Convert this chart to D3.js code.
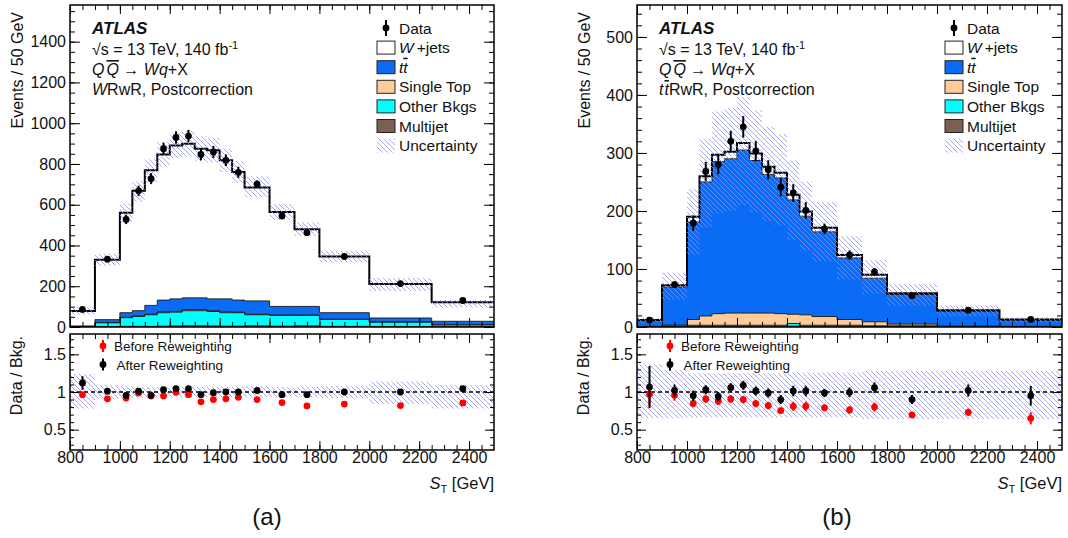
<!DOCTYPE html>
<meta charset="utf-8">
<script src="https://d3js.org/d3.v7.min.js"></script>
<style>
  body { margin: 0; background: #fff; }
  svg text { font-family: "Liberation Sans", Arial, Helvetica, sans-serif; fill: #111; }
  .tick text { font-size: 16px; }
  .it { font-style: italic; }
  .ov { text-decoration: overline; }
</style>
<div id="chart"></div>
<script>

// S_T bins [GeV]
var binEdges   = [800, 900, 1000, 1050, 1100, 1150, 1200, 1250, 1300, 1350, 1400, 1450, 1500, 1600, 1700, 1800, 2000, 2250, 2500];
var binCenters = [850, 950, 1025, 1075, 1125, 1175, 1225, 1275, 1325, 1375, 1425, 1475, 1550, 1650, 1750, 1900, 2125, 2375];

// (a) W RwR -- events / 50 GeV
var wjetsA    = [73, 294, 491, 588, 663, 715, 753, 756, 732, 729, 680, 629, 557, 463, 379, 276, 167, 94];
var ttbarA    = [3, 14, 22, 25, 43, 58, 61, 58, 58, 58, 64, 59, 65, 42, 42, 32, 19, 17];
var singleA   = [0, 1, 2, 3, 3, 4, 4, 5, 5, 4, 4, 3, 3, 2, 2, 1, 1, 0];
var otherA    = [1, 19, 43, 49, 57, 66, 68, 74, 74, 71, 66, 66, 54, 53, 51, 34, 22, 10];
var multijetA = [1, 2, 3, 3, 3, 4, 5, 6, 6, 5, 4, 4, 6, 4, 6, 3, 2, 1];
var dataA     = [86, 333, 528, 668, 728, 875, 930, 937, 847, 859, 818, 759, 701, 545, 463, 346, 213, 130];
var dataErrA  = [6.6, 12.9, 23, 25.8, 27, 29.6, 30.5, 30.6, 29.1, 29.3, 28.6, 27.5, 18.7, 16.5, 15.2, 9.3, 6.5, 5.1];
var uncUpA    = [0.24, 0.09, 0.08, 0.07, 0.07, 0.07, 0.07, 0.07, 0.07, 0.07, 0.07, 0.07, 0.08, 0.07, 0.07, 0.08, 0.14, 0.09];
var uncDnA    = [0.22, 0.09, 0.08, 0.08, 0.08, 0.07, 0.07, 0.07, 0.07, 0.07, 0.07, 0.07, 0.07, 0.07, 0.07, 0.08, 0.16, 0.22];
var afterA     = [1.12, 1.01, 0.956, 1.01, 0.956, 1.03, 1.044, 1.044, 0.965, 0.99, 1.0, 1.0, 1.02, 0.965, 0.965, 1.0, 1.0, 1.044];
var afterErrA  = [0.09, 0.03, 0.035, 0.03, 0.035, 0.03, 0.03, 0.03, 0.03, 0.03, 0.03, 0.03, 0.02, 0.025, 0.03, 0.025, 0.025, 0.035];
var beforeA    = [0.965, 0.91, 0.92, 0.987, 0.947, 0.947, 0.996, 0.965, 0.87, 0.90, 0.91, 0.93, 0.90, 0.86, 0.815, 0.84, 0.82, 0.855];
var beforeErrA = [0.03, 0.02, 0.03, 0.03, 0.03, 0.03, 0.03, 0.03, 0.03, 0.03, 0.03, 0.03, 0.02, 0.025, 0.025, 0.02, 0.02, 0.03];

// (b) ttbar RwR -- events / 50 GeV
var wjetsB    = [1, 3, 9, 10, 12, 12, 12, 12, 13, 9, 9, 8, 7, 5, 6, 2, 1.5, 1];
var ttbarB    = [10, 65.6, 168, 231, 262, 266, 281, 263, 239, 234, 197, 170, 146, 106, 75, 51, 26, 11];
var singleB   = [0, 1.4, 10, 16, 20, 21, 21, 21, 21, 20, 16, 18, 15, 10, 7, 3, 0.5, 0];
var otherB    = [0.5, 1, 1.5, 1.5, 1.5, 1.5, 1.5, 1.5, 1.5, 1.5, 4.5, 1.5, 1.5, 1.5, 1, 1, 0.5, 0.5];
var multijetB = [0.5, 1, 1.5, 1.5, 1.5, 1.5, 1.5, 1.5, 1.5, 1.5, 1.5, 1.5, 1.5, 1.5, 1, 1, 0.5, 0.5];
var dataB     = [12, 73, 179, 268, 280, 320, 345, 303, 271, 241, 231, 201, 169, 124, 95, 54, 29, 13];
var dataErrB  = [2.4, 6, 13.4, 16.4, 16.7, 17.9, 18.6, 17.4, 16.5, 15.5, 15.2, 14.2, 9.2, 7.9, 6.9, 3.7, 2.4, 1.6];
var uncUpB    = [0.37, 0.30, 0.25, 0.25, 0.25, 0.25, 0.25, 0.25, 0.25, 0.25, 0.26, 0.26, 0.26, 0.26, 0.28, 0.28, 0.28, 0.28];
var uncDnB    = [0.35, 0.35, 0.34, 0.34, 0.34, 0.34, 0.34, 0.34, 0.34, 0.34, 0.34, 0.34, 0.34, 0.34, 0.36, 0.36, 0.36, 0.36];
var afterB     = [1.066, 1.02, 0.95, 1.03, 0.94, 1.057, 1.088, 1.013, 0.987, 0.90, 1.013, 1.013, 0.987, 0.996, 1.057, 0.90, 1.02, 0.95];
var afterErrB  = [0.28, 0.08, 0.07, 0.06, 0.06, 0.06, 0.06, 0.06, 0.06, 0.06, 0.07, 0.07, 0.055, 0.065, 0.07, 0.06, 0.08, 0.13];
var beforeB    = [0.97, 0.956, 0.846, 0.907, 0.877, 0.907, 0.90, 0.846, 0.82, 0.753, 0.81, 0.81, 0.79, 0.762, 0.80, 0.696, 0.73, 0.65];
var beforeErrB = [0.15, 0.07, 0.05, 0.05, 0.05, 0.05, 0.05, 0.05, 0.05, 0.04, 0.06, 0.06, 0.045, 0.05, 0.06, 0.035, 0.05, 0.08];

var xTicks = [800, 1000, 1200, 1400, 1600, 1800, 2000, 2200, 2400];

var colors = { wjets: "#ffffff", ttbar: "#0a6cf5", single: "#ffcc99", other: "#00ffff", multijet: "#7d5f50" };
var hatchColor = "#8f8ff4";

var svg = d3.select("#chart").append("svg")
    .attr("width", 1068)
    .attr("height", 538);

// hatch for the uncertainty
svg.append("defs").append("pattern")
    .attr("id", "hatch")
    .attr("patternUnits", "userSpaceOnUse")
    .attr("width", 5).attr("height", 5)
  .append("path")
    .attr("d", "M0,0 L5,5 M-1,4 L1,6 M4,-1 L6,1")
    .attr("stroke", hatchColor)
    .attr("stroke-width", 0.8);

var topY0 = 327, topY1 = 5, ratY0 = 450, ratY1 = 334;

function ticks(g, axis) {
  g.call(axis);
  g.select(".domain").remove();
  g.attr("font-size", null).attr("font-family", null);
}

function drawPanel(p) {
  var g = svg.append("g");
  var x = d3.scaleLinear().domain([800, 2500]).range([p.left, p.right]);
  var y = d3.scaleLinear().domain([0, p.yMax]).range([topY0, topY1]);
  var yr = d3.scaleLinear().domain([0.23, 1.77]).range([ratY0, ratY1]);

  var clip = "clip" + p.name;
  svg.select("defs").append("clipPath").attr("id", clip)
    .append("rect").attr("x", p.left).attr("y", topY1).attr("width", p.right - p.left).attr("height", topY0 - topY1);

  // ---- stacked backgrounds
  var keys = ["multijet", "other", "single", "ttbar", "wjets"];
  var rows = binCenters.map(function(c, i) {
    return { multijet: p.multijet[i], other: p.other[i], single: p.single[i], ttbar: p.ttbar[i], wjets: p.wjets[i] };
  });
  var layers = d3.stack().keys(keys)(rows);

  var area = d3.area().x(function(d) { return x(d.x); }).y0(function(d) { return y(d.y0); }).y1(function(d) { return y(d.y1); });
  var line = d3.line().x(function(d) { return x(d.x); }).y(function(d) { return y(d.y1); });

  function steps(lo, hi) {
    var pts = [];
    binCenters.forEach(function(c, i) {
      pts.push({ x: binEdges[i], y0: lo(i), y1: hi(i) });
      pts.push({ x: binEdges[i + 1], y0: lo(i), y1: hi(i) });
    });
    return pts;
  }

  var stackG = g.append("g").attr("clip-path", "url(#" + clip + ")");
  layers.forEach(function(layer) {
    var pts = steps(function(i) { return layer[i][0]; }, function(i) { return layer[i][1]; });
    stackG.append("path").attr("d", area(pts)).attr("fill", colors[layer.key]);
  });
  layers.forEach(function(layer) {
    var pts = steps(function(i) { return layer[i][0]; }, function(i) { return layer[i][1]; });
    stackG.append("path").attr("d", line(pts)).attr("fill", "none")
      .attr("stroke", layer.key == "wjets" ? "#000" : "#222")
      .attr("stroke-width", layer.key == "wjets" ? 2 : 1);
  });

  // uncertainty band
  var total = layers[layers.length - 1];
  stackG.append("path")
    .attr("d", area(steps(function(i) { return total[i][1] * (1 - p.uncDn[i]); },
                          function(i) { return total[i][1] * (1 + p.uncUp[i]); })))
    .attr("fill", "url(#hatch)");

  // data
  var dg = g.append("g");
  dg.selectAll("line").data(binCenters).join("line")
    .attr("x1", function(d) { return x(d); }).attr("x2", function(d) { return x(d); })
    .attr("y1", function(d, i) { return y(p.data[i] - p.dataErr[i]); })
    .attr("y2", function(d, i) { return y(p.data[i] + p.dataErr[i]); })
    .attr("stroke", "#000").attr("stroke-width", 2);
  dg.selectAll("circle").data(binCenters).join("circle")
    .attr("cx", function(d) { return x(d); })
    .attr("cy", function(d, i) { return y(p.data[i]); })
    .attr("r", 3.4).attr("fill", "#000");

  // ---- axes, top pad
  g.append("g").attr("transform", "translate(" + p.left + ",0)")
    .call(ticks, d3.axisLeft(y).tickValues(p.yTicks).tickSize(-10).tickPadding(4).tickFormat(d3.format("d")));
  g.append("g").attr("transform", "translate(" + p.left + ",0)")
    .call(ticks, d3.axisLeft(y).tickValues(p.yMinor).tickSize(-5).tickFormat(""));
  g.append("g").attr("transform", "translate(" + p.right + ",0)")
    .call(ticks, d3.axisRight(y).tickValues(p.yTicks).tickSize(-10).tickFormat(""));
  g.append("g").attr("transform", "translate(" + p.right + ",0)")
    .call(ticks, d3.axisRight(y).tickValues(p.yMinor).tickSize(-5).tickFormat(""));
  [[topY1, "top"], [topY0, "bottom"], [ratY1, "top"], [ratY0, "bottom"]].forEach(function(a) {
    var mk = a[1] == "top" ? d3.axisTop : d3.axisBottom;
    g.append("g").attr("transform", "translate(0," + a[0] + ")")
      .call(ticks, mk(x).tickValues(xTicks).tickSize(-9).tickPadding(2)
        .tickFormat(a[0] == ratY0 ? d3.format("d") : ""));
    g.append("g").attr("transform", "translate(0," + a[0] + ")")
      .call(ticks, mk(x).tickValues(d3.range(850, 2500, 50)).tickSize(-5).tickFormat(""));
  });
  g.append("rect").attr("x", p.left).attr("y", topY1).attr("width", p.right - p.left).attr("height", topY0 - topY1)
    .attr("fill", "none").attr("stroke", "#000").attr("stroke-width", 1.5);

  g.append("text").attr("transform", "translate(" + (p.left - 47) + ",12) rotate(-90)")
    .attr("text-anchor", "end").style("font-size", "16px").text("Events / 50 GeV");

  // ---- labels
  var tx = p.left + 22;
  g.append("text").attr("x", tx).attr("y", 34).style("font-size", "17px").style("font-weight", "bold").style("font-style", "italic").text("ATLAS");
  var t1 = g.append("text").attr("x", tx).attr("y", 55).style("font-size", "16px");
  t1.append("tspan").text("\u221As = 13 TeV, 140 fb");
  t1.append("tspan").attr("dy", -6).style("font-size", "11px").text("-1");
  var t2 = g.append("text").attr("x", tx).attr("y", 75).style("font-size", "16px");
  t2.append("tspan").attr("class", "it").text("Q");
  t2.append("tspan").attr("class", "it ov").attr("dx", 2).text("Q");
  t2.append("tspan").text(" \u2192 ");
  t2.append("tspan").attr("class", "it").text("Wq");
  t2.append("tspan").text("+X");
  var t3 = g.append("text").attr("x", tx).attr("y", 95).style("font-size", "16px");
  if (p.name == "a") {
    t3.append("tspan").attr("class", "it").text("W");
  } else {
    t3.append("tspan").attr("class", "it").text("t");
    t3.append("tspan").attr("class", "it ov").attr("dx", 1).text("t");
  }
  t3.append("tspan").text("RwR, Postcorrection");

  // legend
  var lx = p.right - 117, ly = 28, dy = 19.6;
  var items = [
    { key: "data" }, { key: "wjets" }, { key: "ttbar" }, { key: "single", label: "Single Top" },
    { key: "other", label: "Other Bkgs" }, { key: "multijet", label: "Multijet" }, { key: "unc", label: "Uncertainty" }
  ];
  items.forEach(function(it, i) {
    var cy = ly + i * dy;
    if (it.key == "data") {
      g.append("line").attr("x1", lx + 9).attr("x2", lx + 9).attr("y1", cy - 8).attr("y2", cy + 8).attr("stroke", "#000").attr("stroke-width", 2);
      g.append("circle").attr("cx", lx + 9).attr("cy", cy).attr("r", 3.4).attr("fill", "#000");
    } else if (it.key == "unc") {
      g.append("rect").attr("x", lx).attr("y", cy - 7).attr("width", 18).attr("height", 14).attr("fill", "url(#hatch)");
    } else {
      g.append("rect").attr("x", lx).attr("y", cy - 6.5).attr("width", 18).attr("height", 13)
        .attr("fill", colors[it.key]).attr("stroke", "#222").attr("stroke-width", 1);
    }
    var t = g.append("text").attr("x", lx + 22).attr("y", cy + 5.5).style("font-size", "15.5px");
    if (it.key == "data") t.text("Data");
    else if (it.key == "wjets") { t.append("tspan").attr("class", "it").text("W"); t.append("tspan").attr("dx", 3).text("+jets"); }
    else if (it.key == "ttbar") { t.append("tspan").attr("class", "it").text("t"); t.append("tspan").attr("class", "it ov").text("t"); }
    else t.text(it.label);
  });

  // ---- ratio pad
  var rg = g.append("g");
  var rclip = "rclip" + p.name;
  svg.select("defs").append("clipPath").attr("id", rclip)
    .append("rect").attr("x", p.left).attr("y", ratY1).attr("width", p.right - p.left).attr("height", ratY0 - ratY1);
  var rArea = d3.area().x(function(d) { return x(d.x); }).y0(function(d) { return yr(d.y0); }).y1(function(d) { return yr(d.y1); });
  rg.append("path").attr("clip-path", "url(#" + rclip + ")")
    .attr("d", rArea(steps(function(i) { return 1 - p.uncDn[i]; }, function(i) { return 1 + p.uncUp[i]; })))
    .attr("fill", "url(#hatch)");
  rg.append("line").attr("x1", p.left).attr("x2", p.right).attr("y1", yr(1)).attr("y2", yr(1))
    .attr("stroke", "#000").attr("stroke-width", 1.5).attr("stroke-dasharray", "4,3");

  function points(vals, errs, col) {
    var pg = rg.append("g");
    pg.selectAll("line").data(binCenters).join("line")
      .attr("x1", function(d) { return x(d); }).attr("x2", function(d) { return x(d); })
      .attr("y1", function(d, i) { return yr(vals[i] - errs[i]); })
      .attr("y2", function(d, i) { return yr(vals[i] + errs[i]); })
      .attr("stroke", col).attr("stroke-width", 2);
    pg.selectAll("circle").data(binCenters).join("circle")
      .attr("cx", function(d) { return x(d); })
      .attr("cy", function(d, i) { return yr(vals[i]); })
      .attr("r", 3.4).attr("fill", col);
  }
  points(p.before, p.beforeErr, "#ff0000");
  points(p.after, p.afterErr, "#000000");

  rg.append("g").attr("transform", "translate(" + p.left + ",0)")
    .call(ticks, d3.axisLeft(yr).tickValues([0.5, 1, 1.5]).tickSize(-9).tickPadding(4).tickFormat(d3.format("")));
  rg.append("g").attr("transform", "translate(" + p.left + ",0)")
    .call(ticks, d3.axisLeft(yr).tickValues(d3.range(0.3, 1.75, 0.1)).tickSize(-4).tickFormat(""));
  rg.append("g").attr("transform", "translate(" + p.right + ",0)")
    .call(ticks, d3.axisRight(yr).tickValues([0.5, 1, 1.5]).tickSize(-9).tickFormat(""));
  rg.append("g").attr("transform", "translate(" + p.right + ",0)")
    .call(ticks, d3.axisRight(yr).tickValues(d3.range(0.3, 1.75, 0.1)).tickSize(-4).tickFormat(""));
  rg.append("rect").attr("x", p.left).attr("y", ratY1).attr("width", p.right - p.left).attr("height", ratY0 - ratY1)
    .attr("fill", "none").attr("stroke", "#000").attr("stroke-width", 1.5);

  rg.append("text").attr("transform", "translate(" + (p.left - 48) + ",336) rotate(-90)")
    .attr("text-anchor", "end").style("font-size", "16px").text("Data / Bkg.");

  // ratio legend
  [["#ff0000", "Before Reweighting", 346, 11], ["#000000", "After Reweighting", 364.5, 13.5]].forEach(function(l) {
    var mx = p.left + 33;
    rg.append("line").attr("x1", mx).attr("x2", mx).attr("y1", l[2] - 6).attr("y2", l[2] + 6).attr("stroke", l[0]).attr("stroke-width", 2);
    rg.append("circle").attr("cx", mx).attr("cy", l[2]).attr("r", 3.4).attr("fill", l[0]);
    rg.append("text").attr("x", mx + l[3]).attr("y", l[2] + 5).style("font-size", "13.5px").text(l[1]);
  });

  var xl = rg.append("text").attr("x", p.right).attr("y", 489).attr("text-anchor", "end").style("font-size", "16.5px");
  xl.append("tspan").attr("class", "it").text("S");
  xl.append("tspan").attr("dy", 4).style("font-size", "11px").text("T");
  xl.append("tspan").attr("dy", -4).text(" [GeV]");

  g.append("text").attr("x", p.capX).attr("y", 525).attr("text-anchor", "middle").style("font-size", "24px").text(p.caption);
}

drawPanel({
  name: "a", left: 70, right: 494, yMax: 1580, capX: 267,
  yTicks: d3.range(0, 1500, 200), yMinor: d3.range(50, 1580, 50),
  wjets: wjetsA, ttbar: ttbarA, single: singleA, other: otherA, multijet: multijetA,
  data: dataA, dataErr: dataErrA, uncUp: uncUpA, uncDn: uncDnA,
  after: afterA, afterErr: afterErrA, before: beforeA, beforeErr: beforeErrA,
  caption: "(a)"
});

drawPanel({
  name: "b", left: 637, right: 1062, yMax: 555, capX: 837,
  yTicks: d3.range(0, 501, 100), yMinor: d3.range(20, 555, 20),
  wjets: wjetsB, ttbar: ttbarB, single: singleB, other: otherB, multijet: multijetB,
  data: dataB, dataErr: dataErrB, uncUp: uncUpB, uncDn: uncDnB,
  after: afterB, afterErr: afterErrB, before: beforeB, beforeErr: beforeErrB,
  caption: "(b)"
});

</script>
